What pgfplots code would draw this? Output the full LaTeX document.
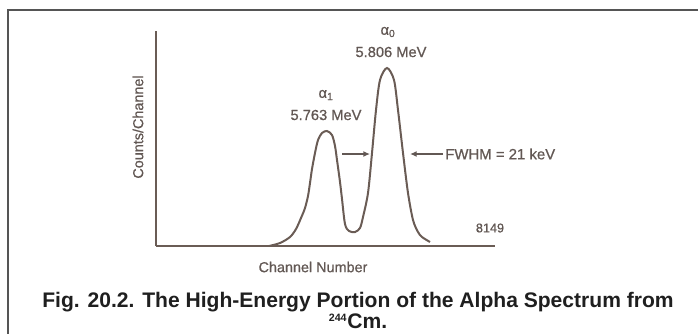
\documentclass[border=0pt]{standalone}
\usepackage{pgfplots}
\pgfplotsset{compat=1.18}
\usepackage{fontspec}
\setmainfont{Liberation Sans}
\newfontfamily\chartfont[FakeBold=0.7]{Liberation Sans}
\usetikzlibrary{arrows.meta}
\definecolor{ink}{HTML}{6A5C55}
\definecolor{txt}{HTML}{625854}
\definecolor{frame}{HTML}{555555}
\begin{document}
\begin{tikzpicture}[x=0.75pt,y=-0.75pt]
\useasboundingbox (0,0) rectangle (698,333);
\draw[frame, line width=1.6pt] (8,340) -- (8,10) -- (705,10);
\begin{axis}[
  at={(117pt,-184.5pt)}, anchor=origin,
  scale only axis, width=254.25pt, height=161.25pt,
  xmin=0, xmax=339, ymin=0, ymax=215,
  axis x line=bottom, axis y line=left,
  axis line style={-, ink, line width=1.5pt},
  xtick=\empty, ytick=\empty,
  clip=false,
  every axis plot/.append style={line width=1.5pt},
]
\addplot[ink, smooth, tension=0.5] coordinates {
(113,0) (124,3) (134,9) (140,17) (145,28) (149,38) (152,50) (154,63) (156,77)
(159,93) (162,106) (166,113) (171,115) (176,111) (179,100) (181,86) (184,64)
(186,47) (189,22) (193,15) (199,14) (204,18) (207,29) (212,53)
(216,93) (220,136) (224,166) (231,178) (238,166) (242,136) (247,93) (252,53)
(257,26) (262,14) (266,9) (274,4)
};
\node[txt, font=\chartfont\fontsize{11}{12}\selectfont] at (axis cs:170,151) {α\textsubscript{1}};
\node[txt, font=\chartfont\fontsize{11}{12}\selectfont] at (axis cs:170,131) {5.763 MeV};
\node[txt, font=\chartfont\fontsize{11}{12}\selectfont] at (axis cs:232,214) {α\textsubscript{0}};
\node[txt, font=\chartfont\fontsize{11}{12}\selectfont] at (axis cs:235,194) {5.806 MeV};
\draw[txt, line width=1.1pt, -{Latex[length=5pt,width=4.5pt]}] (axis cs:186,92) -- (axis cs:214,92);
\draw[txt, line width=1.1pt, -{Latex[length=5pt,width=4.5pt]}] (axis cs:287,92) -- (axis cs:254,92);
\node[txt, anchor=west, inner sep=0pt, font=\chartfont\fontsize{11.2}{12}\selectfont] at (axis cs:289,92) {FWHM = 21 keV};
\node[txt, font=\chartfont\fontsize{9.5}{11}\selectfont] at (axis cs:334,18) {8149};
\node[txt, rotate=90, font=\chartfont\fontsize{10.8}{12}\selectfont] at (axis cs:-18,119) {Counts/Channel};
\node[txt, font=\chartfont\fontsize{10.8}{12}\selectfont] at (axis cs:157,-21) {Channel Number};
\end{axis}
\node[font=\bfseries\fontsize{15.8}{18}\selectfont, text=black!88, anchor=base, inner sep=0pt] at (358,307) {Fig. 20.2. The High-Energy Portion of the Alpha Spectrum from};
\node[font=\bfseries\fontsize{15.8}{18}\selectfont, text=black!88, anchor=base, inner sep=0pt] at (358,328) {\textsuperscript{\fontsize{8}{9}\selectfont 244}Cm.};
\end{tikzpicture}
\end{document}
